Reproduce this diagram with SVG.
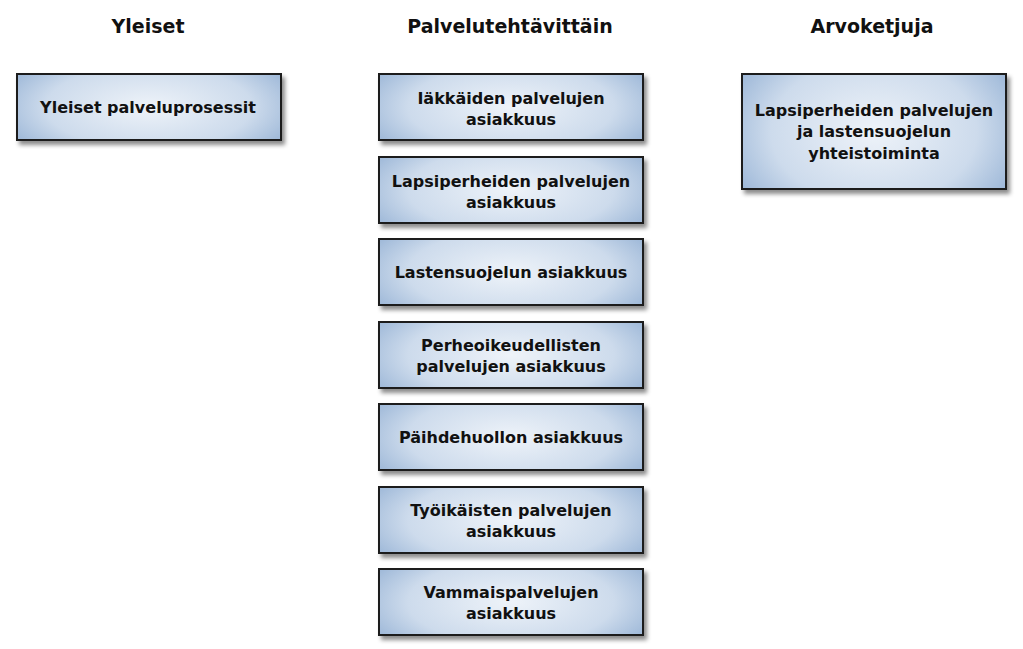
<svg xmlns="http://www.w3.org/2000/svg" width="1023" height="649" viewBox="0 0 1023 649">
<style>
.b{stroke:#1a1a1a;stroke-width:2;fill:url(#g);filter:url(#s)}
.t{font-family:"DejaVu Sans",sans-serif;font-weight:bold;font-size:16px;fill:#111;text-anchor:middle}
.h{font-family:"DejaVu Sans",sans-serif;font-weight:bold;font-size:19px;fill:#111;text-anchor:middle}
</style>
<defs>
<radialGradient id="g" cx="0.5" cy="0.5" r="0.6" gradientTransform="translate(0.5 0.5) scale(1 1.6) translate(-0.5 -0.5)">
<stop offset="0" stop-color="#eef3f9"/><stop offset="0.65" stop-color="#cddbec"/><stop offset="1" stop-color="#9bb6d7"/>
</radialGradient>
<filter id="s" x="-10%" y="-10%" width="125%" height="140%"><feDropShadow dx="3" dy="4" stdDeviation="2" flood-color="#000" flood-opacity="0.45"/></filter>
</defs>
<g id="connectors"/>
<text class="h" x="148" y="33">Yleiset</text>
<text class="h" x="510" y="33">Palvelutehtävittäin</text>
<text class="h" x="872" y="33">Arvoketjuja</text>
<g id="n0"><rect class="b" x="17" y="74" width="264" height="66"/><text class="t" x="148" y="113">Yleiset palveluprosessit</text></g>
<g id="n1"><rect class="b" x="379" y="74" width="264" height="66"/><text class="t" x="511" y="104">Iäkkäiden palvelujen</text><text class="t" x="511" y="125">asiakkuus</text></g>
<g id="n2"><rect class="b" x="379" y="157" width="264" height="66"/><text class="t" x="511" y="187">Lapsiperheiden palvelujen</text><text class="t" x="511" y="208">asiakkuus</text></g>
<g id="n3"><rect class="b" x="379" y="239" width="264" height="66"/><text class="t" x="511" y="278">Lastensuojelun asiakkuus</text></g>
<g id="n4"><rect class="b" x="379" y="322" width="264" height="66"/><text class="t" x="511" y="351">Perheoikeudellisten</text><text class="t" x="511" y="372">palvelujen asiakkuus</text></g>
<g id="n5"><rect class="b" x="379" y="404" width="264" height="66"/><text class="t" x="511" y="443">Päihdehuollon asiakkuus</text></g>
<g id="n6"><rect class="b" x="379" y="487" width="264" height="66"/><text class="t" x="511" y="516">Työikäisten palvelujen</text><text class="t" x="511" y="537">asiakkuus</text></g>
<g id="n7"><rect class="b" x="379" y="569" width="264" height="66"/><text class="t" x="511" y="598">Vammaispalvelujen</text><text class="t" x="511" y="619">asiakkuus</text></g>
<g id="n8"><rect class="b" x="742" y="74" width="264" height="115"/><text class="t" x="874" y="116">Lapsiperheiden palvelujen</text><text class="t" x="874" y="137">ja lastensuojelun</text><text class="t" x="874" y="159">yhteistoiminta</text></g>
</svg>
